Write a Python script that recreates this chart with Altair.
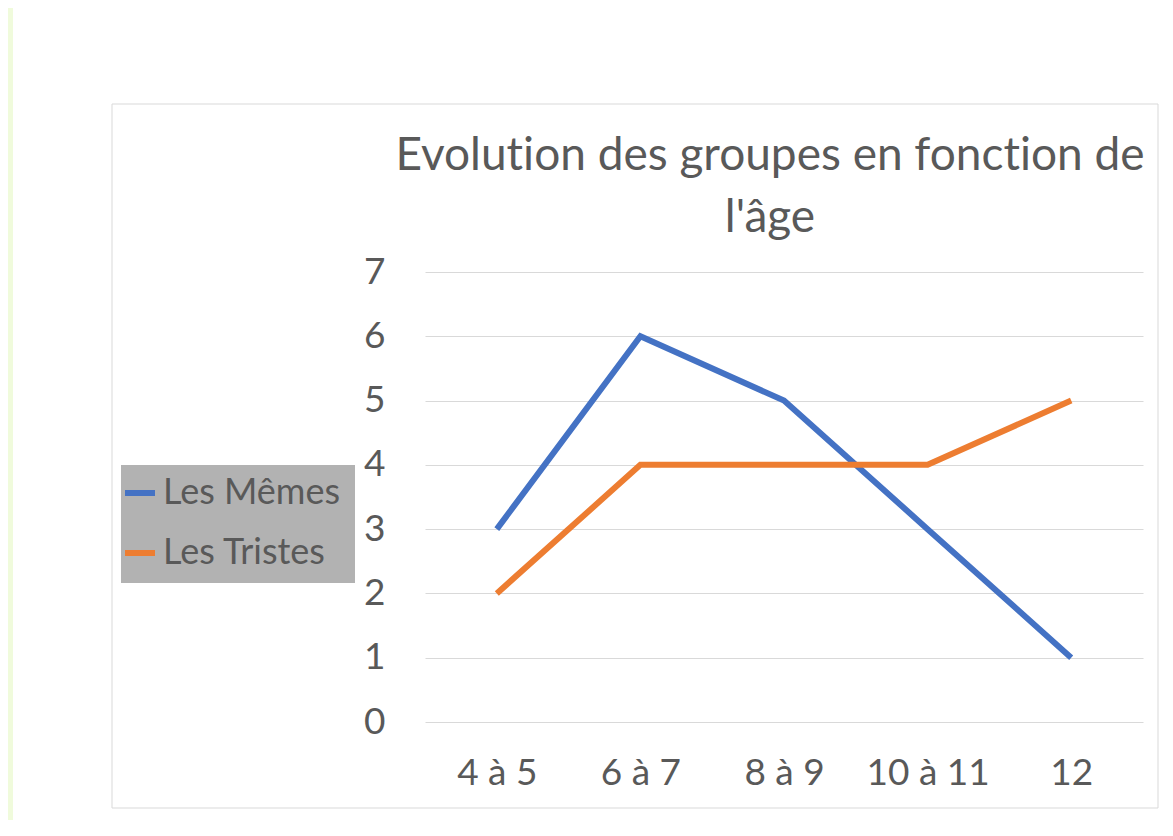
import altair as alt
import pandas as pd

categories = ["4 à 5", "6 à 7", "8 à 9", "10 à 11", "12"]
series_names = ["Les Mêmes", "Les Tristes"]
les_memes = [3, 6, 5, 3, 1]
les_tristes = [2, 4, 4, 4, 5]
y_ticks = [0, 1, 2, 3, 4, 5, 6, 7]
colors = ["#4472C4", "#ED7D31"]
# \u200c keeps Lato from forming a "ti" ligature
title_lines = ["Evolut\u200cion des groupes en fonct\u200cion de", "l'âge"]

rows = []
for c, v in zip(categories, les_memes):
    rows.append({"age": c, "serie": series_names[0], "val": v})
for c, v in zip(categories, les_tristes):
    rows.append({"age": c, "serie": series_names[1], "val": v})
df = pd.DataFrame(rows)

FONT = "Lato"
GRAY = "#595959"

one = pd.DataFrame({"k": [0]})

frame = alt.Chart(one).mark_rect(fill=None, filled=False, stroke="#d9d9d9", strokeWidth=1).encode(
    x=alt.value(-313), x2=alt.value(733), y=alt.value(-168), y2=alt.value(536)
)
green = alt.Chart(one).mark_rect(fill="#f0fbdc").encode(
    x=alt.value(-417), x2=alt.value(-412), y=alt.value(-264), y2=alt.value(556)
)
legbox = alt.Chart(one).mark_rect(fill="#b2b2b2").encode(
    x=alt.value(-304), x2=alt.value(-70), y=alt.value(193), y2=alt.value(311)
)
t1 = alt.Chart(pd.DataFrame({"t": [title_lines[0]]})).mark_text(
    font=FONT, fontSize=46, color=GRAY, align="center", baseline="alphabetic"
).encode(text="t:N", x=alt.value(345), y=alt.value(-102))
t2 = alt.Chart(pd.DataFrame({"t": [title_lines[1]]})).mark_text(
    font=FONT, fontSize=46, color=GRAY, align="center", baseline="alphabetic"
).encode(text="t:N", x=alt.value(345), y=alt.value(-40))

lines = alt.Chart(df).mark_line(strokeWidth=6, strokeCap="butt", strokeJoin="miter").encode(
    x=alt.X("age:N", sort=categories, title=None,
            scale=alt.Scale(type="point", padding=0.5),
            axis=alt.Axis(labelAngle=0, labelFont=FONT, labelFontSize=37, labelColor=GRAY,
                          ticks=False, domain=False, labelPadding=33, grid=False)),
    y=alt.Y("val:Q", title=None, scale=alt.Scale(domain=[0, 7], nice=False),
            axis=alt.Axis(values=y_ticks, labelFont=FONT, labelFontSize=37, labelColor=GRAY,
                          ticks=False, domain=False, labelPadding=40, gridColor="#d9d9d9",
                          gridWidth=1)),
    color=alt.Color("serie:N", sort=series_names,
                    scale=alt.Scale(domain=series_names, range=colors),
                    legend=alt.Legend(title=None, orient="none", legendX=-303, legendY=203,
                                      padding=0, symbolType="stroke", symbolSize=900,
                                      symbolStrokeWidth=6, labelFont=FONT, labelFontSize=36,
                                      labelColor=GRAY, labelOffset=5, rowPadding=24,
                                      labelLimit=400)),
)

chart = alt.layer(green, frame, legbox, t1, t2, lines).properties(
    width=718, height=450,
    autosize=alt.AutoSizeParams(type="none"),
    padding={"left": 417, "top": 264, "right": 22, "bottom": 98},
    background="white",
).configure_view(stroke=None)

chart.save("out.html", embed_options={"renderer": "svg", "actions": False})
